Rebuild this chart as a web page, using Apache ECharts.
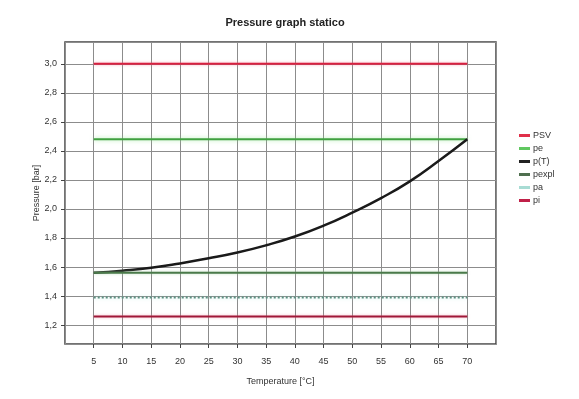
<!DOCTYPE html>
<html>
<head>
<meta charset="utf-8">
<script src="https://cdn.jsdelivr.net/npm/echarts@6/dist/echarts.min.js"></script>
<style>
  html, body { margin: 0; padding: 0; background: #fff; }
  #chart { width: 579px; height: 399px; }
</style>
</head>
<body>
<div id="chart"></div>
<script>
// temperatures [°C]
var temps = [5, 10, 15, 20, 25, 30, 35, 40, 45, 50, 55, 60, 65, 70];
// p(T) curve [bar]
var pT = [1.56, 1.575, 1.595, 1.625, 1.66, 1.70, 1.75, 1.81, 1.885, 1.975, 2.075, 2.19, 2.33, 2.48];
// constant levels [bar]
var psv = 3.0;
var pe = 2.48;
var pexpl = 1.56;
var pa = 1.39;
var pi = 1.26;

function flat(v) {
  return temps.map(function (t) { return [t, v]; });
}

var myChart = echarts.init(document.getElementById('chart'));

var txt = { fontFamily: 'Liberation Sans', fontSize: 9, color: '#333' };

var option = {
  animation: false,
  backgroundColor: '#fff',
  title: {
    text: 'Pressure graph statico',
    left: 280,
    textAlign: 'center',
    top: 12,
    textStyle: { fontFamily: 'Liberation Sans', fontSize: 11, fontWeight: 'bold', color: '#222' }
  },
  legend: {
    orient: 'vertical',
    left: 514,
    top: 126,
    itemWidth: 11,
    itemHeight: 3,
    itemGap: 4,
    icon: 'rect',
    textStyle: { fontFamily: 'Liberation Sans', fontSize: 9, color: '#333', padding: [0, 0, 0, -2] },
    data: ['PSV', 'pe', 'p(T)', 'pexpl', 'pa', 'pi']
  },
  grid: {
    left: 65, right: 83, top: 42, bottom: 55,
    show: true,
    borderColor: '#444',
    borderWidth: 1.5
  },
  xAxis: {
    type: 'value',
    min: 0,
    max: 75,
    interval: 5,
    name: 'Temperature [°C]',
    nameLocation: 'middle',
    nameGap: 33,
    nameTextStyle: txt,
    axisLine: { show: false },
    axisTick: { show: true, length: 4, lineStyle: { color: '#444' } },
    axisLabel: {
      fontFamily: 'Liberation Sans', fontSize: 9, color: '#333', margin: 13,
      showMinLabel: false, showMaxLabel: false
    },
    splitLine: { show: true, lineStyle: { color: '#8c8c8c', width: 1 } }
  },
  yAxis: {
    type: 'value',
    min: 1.07,
    max: 3.15,
    splitNumber: 10,
    name: 'Pressure [bar]',
    nameLocation: 'middle',
    nameGap: 24,
    nameMoveOverlap: false,
    nameTextStyle: txt,
    axisLine: { show: false },
    axisTick: { show: true, length: 4, lineStyle: { color: '#444' } },
    axisLabel: {
      fontFamily: 'Liberation Sans', fontSize: 9, color: '#333', margin: 8,
      showMinLabel: false, showMaxLabel: false,
      formatter: function (v) { return v.toFixed(1).replace('.', ','); }
    },
    splitLine: { show: true, lineStyle: { color: '#8c8c8c', width: 1 } }
  },
  series: [
    {
      name: 'PSV', type: 'line', showSymbol: false, data: flat(psv),
      itemStyle: { color: '#e0304a' },
      lineStyle: { color: '#d82040', width: 2, shadowColor: 'rgba(240,120,140,0.6)', shadowBlur: 3 }
    },
    {
      name: 'pe', type: 'line', showSymbol: false, data: flat(pe),
      itemStyle: { color: '#60c860' },
      lineStyle: { color: '#40a040', width: 2, shadowColor: 'rgba(140,230,140,0.7)', shadowBlur: 4 }
    },
    {
      name: 'p(T)', type: 'line', showSymbol: false, smooth: true,
      data: temps.map(function (t, i) { return [t, pT[i]]; }),
      itemStyle: { color: '#222' },
      lineStyle: { color: '#1a1a1a', width: 2.5 }
    },
    {
      name: 'pexpl', type: 'line', showSymbol: false, data: flat(pexpl),
      itemStyle: { color: '#4f6f4f' },
      lineStyle: { color: '#4a7a4a', width: 2, shadowColor: 'rgba(160,210,160,0.6)', shadowBlur: 3 }
    },
    {
      name: 'pa', type: 'line', showSymbol: false, data: flat(pa),
      itemStyle: { color: '#a8dcd4' },
      lineStyle: { color: '#5a8f80', width: 2, type: [2, 2], shadowColor: 'rgba(170,230,220,0.7)', shadowBlur: 4 }
    },
    {
      name: 'pi', type: 'line', showSymbol: false, data: flat(pi),
      itemStyle: { color: '#c02048' },
      lineStyle: { color: '#a01838', width: 2, shadowColor: 'rgba(240,140,160,0.6)', shadowBlur: 3 }
    }
  ]
};

myChart.setOption(option);
</script>
</body>
</html>
